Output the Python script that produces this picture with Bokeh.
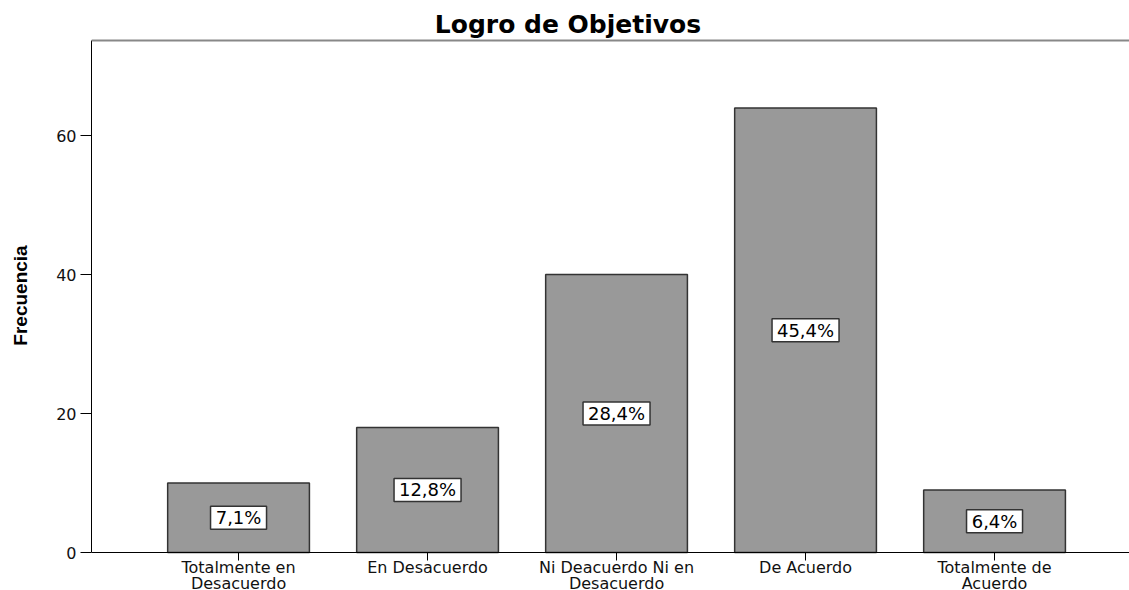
from bokeh.plotting import figure
from bokeh.models import Range1d, FixedTicker, Span, ColumnDataSource
from bokeh.core.properties import value
from bokeh.embed import file_html
from bokeh.resources import INLINE

title_text = "Logro de Objetivos"
categories = ["Totalmente en\nDesacuerdo", "En Desacuerdo",
              "Ni Deacuerdo Ni en\nDesacuerdo", "De Acuerdo",
              "Totalmente de\nAcuerdo"]
frequencies = [10, 18, 40, 64, 9]
percent_labels = ["7,1%", "12,8%", "28,4%", "45,4%", "6,4%"]
y_ticks = [0, 20, 40, 60]

positions = list(range(len(categories)))
src = ColumnDataSource(dict(
    x=positions,
    top=frequencies,
    mid=[f / 2 for f in frequencies],
    lbl=percent_labels,
    box_w=[12 + 11 * len(t) for t in percent_labels],
))

# layout geometry (pixels) used to derive the ranges
W, H = 1129, 590
LEFT = 91             # frame left edge
TOP_LINE = 40         # pixel row of the top frame line
BASE = 552            # pixel row of the zero line
Y_END = 73.7          # value at the top frame line
ppu = (BASE - TOP_LINE) / Y_END
y_lo = -(H - BASE) / ppu
y_hi = Y_END + TOP_LINE / ppu
X_START = -0.778
xppu = 189.0
x_hi = X_START + (W - LEFT) / xppu

p = figure(width=W, height=H, output_backend="svg", toolbar_location=None,
           x_range=Range1d(X_START, x_hi), y_range=Range1d(y_lo, y_hi),
           min_border_left=LEFT, min_border_right=0, min_border_top=0,
           min_border_bottom=0, outline_line_color=None,
           background_fill_color="white", border_fill_color="white")
p.title.visible = False
p.xgrid.visible = False
p.ygrid.visible = False

p.vbar(x="x", top="top", bottom=0, width=0.75, source=src, fill_color="#999999",
       line_color="#333333", line_width=1.5)

p.rect(x="x", y="mid", width="box_w", height=23, width_units="screen",
       height_units="screen", source=src, fill_color="white",
       line_color="#333333", line_width=1.5)
p.text(x="x", y="mid", text="lbl", source=src, text_align="center",
       text_baseline="middle", text_font=value("DejaVu Sans"),
       text_font_size="18px", text_color="#000000")

# top frame line
p.add_layout(Span(location=Y_END, dimension="width", line_color="#888888",
                  line_width=2))

# chart title, centred on the page
title_x = X_START + (W / 2 + 3 - LEFT) / xppu
title_y = Y_END + 16 / ppu
p.text(x=[title_x], y=[title_y], text=[title_text], text_align="center",
       text_baseline="alphabetic", text_font=value("DejaVu Sans"),
       text_font_style="bold", text_font_size="25px", text_color="#000000")

xa = p.xaxis[0]
xa.fixed_location = 0
xa.ticker = FixedTicker(ticks=positions)
xa.major_label_overrides = {i: c for i, c in zip(positions, categories)}
xa.major_label_text_font = "DejaVu Sans"
xa.major_label_text_font_size = "16px"
xa.major_label_text_color = "#111111"
xa.major_label_text_line_height = 0.85
xa.major_label_standoff = -3
xa.major_tick_out = 8
xa.major_tick_in = 0
xa.minor_tick_line_color = None
xa.axis_line_color = "#000000"
xa.major_tick_line_color = "#000000"

ya = p.yaxis[0]
ya.bounds = (0, Y_END)
ya.ticker = FixedTicker(ticks=y_ticks)
ya.major_label_text_font = "DejaVu Sans"
ya.major_label_text_font_size = "16px"
ya.major_label_text_color = "#111111"
ya.major_label_standoff = 4
ya.major_tick_out = 11
ya.major_tick_in = 0
ya.minor_tick_line_color = None
ya.axis_line_color = "#000000"
ya.major_tick_line_color = "#000000"
ya.axis_label = "Frecuencia"
ya.axis_label_text_font = "Liberation Sans"
ya.axis_label_text_font_style = "bold"
ya.axis_label_text_font_size = "19px"
ya.axis_label_text_color = "#000000"
ya.axis_label_standoff = 22

open("out.html", "w").write(file_html(p, INLINE))
